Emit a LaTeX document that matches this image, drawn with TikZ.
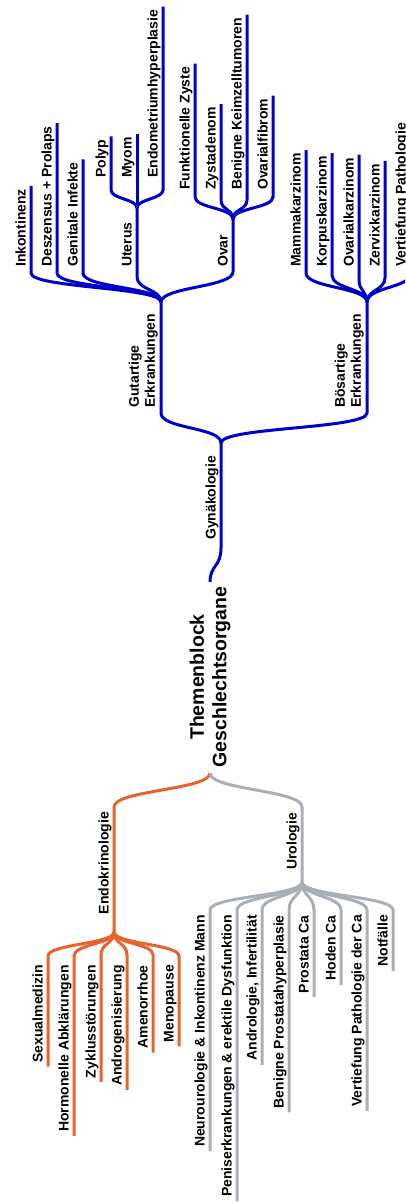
\documentclass[tikz,border=0pt]{standalone}
\usepackage{fontspec}
\setmainfont{Liberation Sans}
\usetikzlibrary{calc}
\definecolor{gblue}{RGB}{0,0,204}
\definecolor{gorange}{RGB}{232,99,43}
\definecolor{ggray}{RGB}{169,175,183}
\begin{document}
\begin{tikzpicture}[x=1pt,y=-1pt,
  brU/.style={to path={.. controls ($(\tikztostart)+(0,-#1)$) and ($(\tikztotarget)+(0,#1)$) .. (\tikztotarget)}},
  brD/.style={to path={.. controls ($(\tikztostart)+(0,#1)$) and ($(\tikztotarget)+(0,-#1)$) .. (\tikztotarget)}},
  bl/.style={draw=gblue,line width=3pt},
  ol/.style={draw=gorange,line width=3pt},
  gl/.style={draw=ggray,line width=3pt},
  labfont/.style={font=\bfseries\fontsize{14}{16}\selectfont},
  labU/.style={rotate=90,anchor=base west,inner sep=0pt,labfont},
  labD/.style={rotate=90,anchor=base east,inner sep=0pt,labfont},
]
\useasboundingbox (0,0) rectangle (405,1203);
\clip (0,0) rectangle (405,1203);

% ---------- coordinates ----------
\coordinate (rootT) at (210,582);
\coordinate (rootB) at (210,773);
\coordinate (J0) at (221,443);
\coordinate (gutC) at (161,413);
\coordinate (bosC) at (367,413);
\coordinate (J1) at (161,302);
\coordinate (J4) at (367,302);
\coordinate (inkC) at (31,273);
\coordinate (desC) at (57,273);
\coordinate (genC) at (83,273);
\coordinate (utC) at (137,277);
\coordinate (ovC) at (233,272);
\coordinate (J2) at (137,208);
\coordinate (J3) at (233,219);
\coordinate (polC) at (111,190);
\coordinate (endC) at (163,190);
\coordinate (funC) at (195,197);
\coordinate (zysC) at (221,200);
\coordinate (benC) at (247,200);
\coordinate (fibC) at (273,197);
\coordinate (mamC) at (306,273);
\coordinate (korC) at (332,275);
\coordinate (ovkC) at (359,280);
\coordinate (zerC) at (385,278);
\coordinate (verC) at (411,273);
\coordinate (endoC) at (114,807);
\coordinate (uroC) at (302,807);
\coordinate (J5) at (114,932);
\coordinate (J6) at (302,882);
\coordinate (sexC) at (48,956);
\coordinate (horC) at (74,956);
\coordinate (zykC) at (101,955);
\coordinate (andC) at (127,955);
\coordinate (ameC) at (153,955);
\coordinate (menC) at (179,956);
\coordinate (neuC) at (210,910);
\coordinate (penC) at (237,910);
\coordinate (anlC) at (262,910);
\coordinate (bphC) at (289,910);
\coordinate (proC) at (314,910);
\coordinate (hodC) at (341,910);
\coordinate (vpcC) at (367,910);
\coordinate (notC) at (393,910);

% ---------- labels ----------
\node[rotate=90,align=center,inner sep=0pt,font=\bfseries\fontsize{19.5}{22.5}\selectfont] (root) at (210,677) {Themenblock\\Geschlechtsorgane};

\node[labU] (gyn) at (215.5,540) {Gynäkologie};
\node[labU,anchor=south west,align=left] (gut) at (158,408) {Gutartige\\Erkrankungen};
\node[labU,anchor=south west,align=left] (bos) at (364,408) {Bösartige\\Erkrankungen};

\node[labU] (ink) at (25.5,267) {Inkontinenz};
\node[labU] (des) at (51.5,267) {Deszensus + Prolaps};
\node[labU] (gen) at (77.5,267) {Genitale Infekte};
\node[labU] (ute) at (131.5,267) {Uterus};
\node[labU] (ova) at (227.5,267) {Ovar};
\node[labU] (pol) at (105.5,178) {Polyp};
\node[labU] (myo) at (131.5,178) {Myom};
\node[labU] (endm) at (157.5,178) {Endometriumhyperplasie};
\node[labU] (fun) at (189.5,190) {Funktionelle Zyste};
\node[labU] (zys) at (215.5,190) {Zystadenom};
\node[labU] (ben) at (241.5,190) {Benigne Keimzelltumoren};
\node[labU] (fib) at (267.5,190) {Ovarialfibrom};
\node[labU] (mam) at (300.5,267) {Mammakarzinom};
\node[labU] (kor) at (326.5,267) {Korpuskarzinom};
\node[labU] (ovk) at (353.5,267) {Ovarialkarzinom};
\node[labU] (zer) at (379.5,267) {Zervixkarzinom};
\node[labU] (ver) at (405.5,267) {Vertiefung Pathologie};

\node[labD] (endo) at (108.5,812) {Endokrinologie};
\node[labD] (uro) at (296.5,813) {Urologie};

\node[labD] (sex) at (42.5,965) {Sexualmedizin};
\node[labD] (hor) at (68.5,965) {Hormonelle Abklärungen};
\node[labD] (zyk) at (95.5,965) {Zyklusstörungen};
\node[labD] (and) at (121.5,965) {Androgenisierung};
\node[labD] (ame) at (147.5,965) {Amenorrhoe};
\node[labD] (men) at (173.5,965) {Menopause};

\node[labD] (neu) at (204.5,915) {Neurourologie \& Inkontinenz Mann};
\node[labD] (pen) at (231.5,915) {Peniserkrankungen \& erektile Dysfunktion};
\node[labD] (anl) at (256.5,915) {Andrologie, Infertilität};
\node[labD] (bph) at (283.5,915) {Benigne Prostatahyperplasie};
\node[labD] (pro) at (308.5,915) {Prostata Ca};
\node[labD] (hod) at (335.5,915) {Hoden Ca};
\node[labD] (vpc) at (361.5,915) {Vertiefung Pathologie der Ca};
\node[labD] (nof) at (387.5,915) {Notfälle};

% ---------- blue (Gynäkologie) ----------
\draw[bl] (rootT) .. controls (210,565) and (221,567) .. (221,548) -- (J0);
\draw[bl] (J0) to[brU=16] (gutC) -- (J1);
\draw[bl] (J0) to[brU=16] (bosC) -- (J4);

\draw[bl] (J1) to[brU=15] (inkC) -- (inkC |- ink.east) -- ++(0,-3);
\draw[bl] (J1) to[brU=15] (desC) -- (desC |- des.east) -- ++(0,-3);
\draw[bl] (J1) to[brU=15] (genC) -- (genC |- gen.east) -- ++(0,-3);
\draw[bl] (J1) to[brU=13] (utC) -- (J2);
\draw[bl] (J1) to[brU=15] (ovC) -- (J3);

\draw[bl] (J2) to[brU=9] (polC) -- (polC |- pol.east) -- ++(0,-3);
\draw[bl] (J2) -- (J2 |- myo.east) -- ++(0,-3);
\draw[bl] (J2) to[brU=9] (endC) -- (endC |- endm.east) -- ++(0,-3);

\draw[bl] (J3) to[brU=11] (funC) -- (funC |- fun.east) -- ++(0,-3);
\draw[bl] (J3) to[brU=10] (zysC) -- (zysC |- zys.east) -- ++(0,-3);
\draw[bl] (J3) to[brU=10] (benC) -- (benC |- ben.east) -- ++(0,-3);
\draw[bl] (J3) to[brU=11] (fibC) -- (fibC |- fib.east) -- ++(0,-3);

\draw[bl] (J4) to[brU=15] (mamC) -- (mamC |- mam.east) -- ++(0,-3);
\draw[bl] (J4) to[brU=14] (korC) -- (korC |- kor.east) -- ++(0,-3);
\draw[bl] (J4) to[brU=11] (ovkC) -- (ovkC |- ovk.east) -- ++(0,-3);
\draw[bl] (J4) to[brU=12] (zerC) -- (zerC |- zer.east) -- ++(0,-3);
\draw[bl] (J4) to[brU=15] (verC) -- (verC |- ver.east) -- ++(0,-3);

% ---------- orange (Endokrinologie) ----------
\draw[ol] (rootB) to[brD=17] (endoC) -- (J5);
\draw[ol] (J5) to[brD=12] (sexC) -- (sexC |- sex.west) -- ++(0,4);
\draw[ol] (J5) to[brD=12] (horC) -- (horC |- hor.west) -- ++(0,4);
\draw[ol] (J5) to[brD=12] (zykC) -- (zykC |- zyk.west) -- ++(0,4);
\draw[ol] (J5) to[brD=12] (andC) -- (andC |- and.west) -- ++(0,4);
\draw[ol] (J5) to[brD=12] (ameC) -- (ameC |- ame.west) -- ++(0,4);
\draw[ol] (J5) to[brD=12] (menC) -- (menC |- men.west) -- ++(0,4);

% ---------- gray (Urologie) ----------
\draw[gl] (rootB) to[brD=17] (uroC) -- (J6);
\draw[gl] (J6) to[brD=14] (neuC) -- (neuC |- neu.west) -- ++(0,4);
\draw[gl] (J6) to[brD=14] (penC) -- (penC |- pen.west) -- ++(0,4);
\draw[gl] (J6) to[brD=14] (anlC) -- (anlC |- anl.west) -- ++(0,4);
\draw[gl] (J6) to[brD=14] (bphC) -- (bphC |- bph.west) -- ++(0,4);
\draw[gl] (J6) to[brD=14] (proC) -- (proC |- pro.west) -- ++(0,4);
\draw[gl] (J6) to[brD=14] (hodC) -- (hodC |- hod.west) -- ++(0,4);
\draw[gl] (J6) to[brD=14] (vpcC) -- (vpcC |- vpc.west) -- ++(0,4);
\draw[gl] (J6) to[brD=14] (notC) -- (notC |- nof.west) -- ++(0,4);
\end{tikzpicture}
\end{document}
